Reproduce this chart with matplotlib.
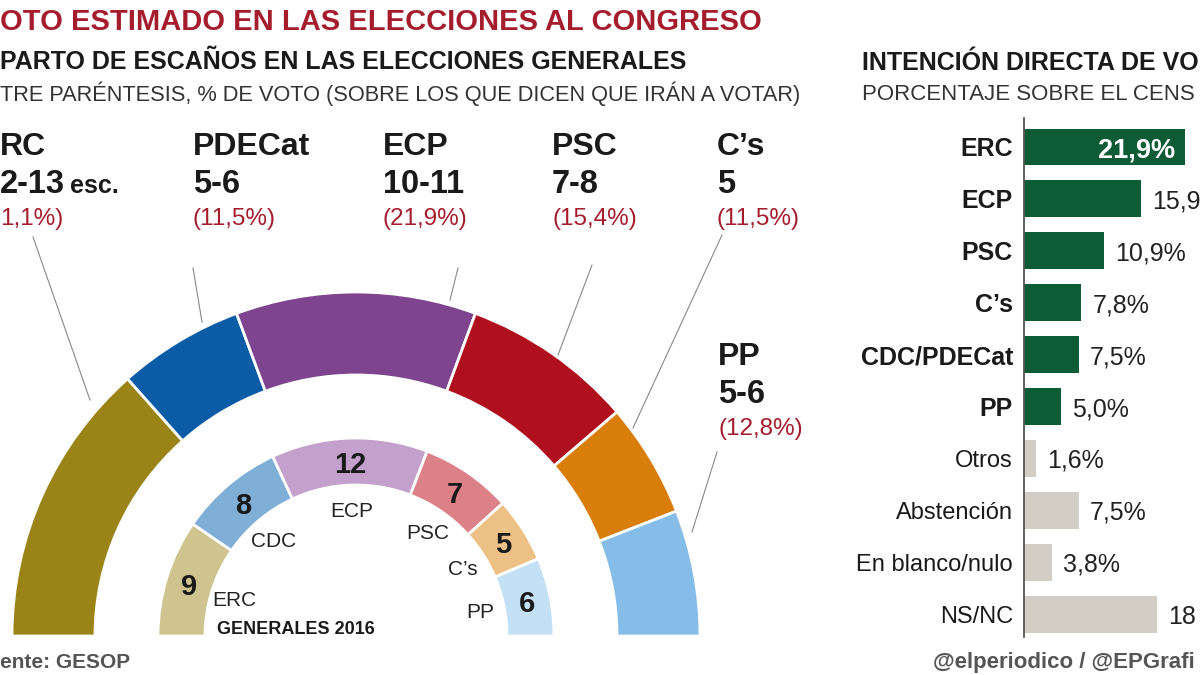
import numpy as np
import matplotlib
matplotlib.use("Agg")
import matplotlib.pyplot as plt
from matplotlib.patches import Wedge

plt.rcParams['font.family'] = ['Liberation Sans', 'DejaVu Sans']

# ========== DATA ==========
# estimated seats (range) per party, outer ring
parties = ['ERC', 'PDECat', 'ECP', 'PSC', "C's", 'PP']
seats_low = [12, 5, 10, 7, 5, 5]
seats_high = [13, 6, 11, 8, 5, 6]
name_labels = ['RC', 'PDECat', 'ECP', 'PSC', 'C\u2019s', 'PP']
seat_labels = ['2-13', '5-6', '10-11', '7-8', '5', '5-6']
vote_labels = ['1,1%)', '(11,5%)', '(21,9%)', '(15,4%)', '(11,5%)', '(12,8%)']
outer_colors = ['#9a8418', '#0b5ca6', '#7e4490', '#b0101e', '#d97d0b', '#85bde8']

# 2016 results, inner ring
parties_2016 = ['ERC', 'CDC', 'ECP', 'PSC', 'C\u2019s', 'PP']
seats_2016 = [9, 8, 12, 7, 5, 6]
inner_colors = ['#cfc48f', '#7faed6', '#c4a1cc', '#dc8188', '#edc185', '#c4e0f4']

# direct vote intention (% of census)
bar_labels = ['ERC', 'ECP', 'PSC', 'C\u2019s', 'CDC/PDECat', 'PP',
              'Otros', 'Abstención', 'En blanco/nulo', 'NS/NC']
bar_values = [21.9, 15.9, 10.9, 7.8, 7.5, 5.0, 1.6, 7.5, 3.8, 18.1]
# value labels as they show (the last ones run off the right edge)
bar_texts = ['21,9%', '15,9', '10,9%', '7,8%', '7,5%', '5,0%', '1,6%', '7,5%', '3,8%', '18']
bar_is_party = [True] * 6 + [False] * 4

W, H = 1200, 675
fig = plt.figure(figsize=(12, 6.75), dpi=100)
ax = fig.add_axes([0, 0, 1, 1])
ax.set_xlim(0, W)
ax.set_ylim(0, H)
ax.set_aspect('equal')
ax.axis('off')


def Y(y):
    # image row -> axis y
    return H - y


RED = '#a51d2d'
DARK = '#1a1a1a'

# ========== TITLES ==========
ax.text(0, Y(30), 'OTO ESTIMADO EN LAS ELECCIONES AL CONGRESO', color=RED,
        fontsize=21, fontweight='bold')
ax.text(0, Y(69), 'PARTO DE ESCAÑOS EN LAS ELECCIONES GENERALES', color=DARK,
        fontsize=18, fontweight='bold')
ax.text(0, Y(101), 'TRE PARÉNTESIS, % DE VOTO (SOBRE LOS QUE DICEN QUE IRÁN A VOTAR)',
        color='#333333', fontsize=15.7)

ax.text(862, Y(70), 'INTENCIÓN DIRECTA DE VO', color=DARK, fontsize=18, fontweight='bold')
ax.text(862, Y(100), 'PORCENTAJE SOBRE EL CENS', color='#333333', fontsize=16)

ax.text(0, Y(668), 'ente: GESOP', color='#555555', fontsize=15, fontweight='bold')
ax.text(933, Y(668), '@elperiodico / @EPGrafi', color='#555555', fontsize=16, fontweight='bold')

# ========== OUTER RING (estimate) ==========
cx, cy = 356, Y(636)
seats_mid = [(lo + hi) / 2 for lo, hi in zip(seats_low, seats_high)]
tot = sum(seats_mid)
cum = 0
for s, col in zip(seats_mid, outer_colors):
    t_start = 180 - cum / tot * 180
    cum += s
    t_end = 180 - cum / tot * 180
    ax.add_patch(Wedge((cx, cy), 344, t_end, t_start, width=83,
                       facecolor=col, edgecolor='white', linewidth=2))

# ========== INNER RING (2016) ==========
tot16 = sum(seats_2016)
cum = 0
for name, s, col in zip(parties_2016, seats_2016, inner_colors):
    t_start = 180 - cum / tot16 * 180
    cum += s
    t_end = 180 - cum / tot16 * 180
    ax.add_patch(Wedge((cx, cy), 198, t_end, t_start, width=47,
                       facecolor=col, edgecolor='white', linewidth=2))
    mid = np.radians((t_start + t_end) / 2)
    ax.text(cx + 174.5 * np.cos(mid), cy + 174.5 * np.sin(mid), str(s),
            ha='center', va='center_baseline', fontsize=21, fontweight='bold', color=DARK)
    ax.text(cx + 127 * np.cos(mid), cy + 127 * np.sin(mid), name,
            ha='center', va='center_baseline', fontsize=15, color='#222222')

ax.text(296, Y(634), 'GENERALES 2016', ha='center', fontsize=13, fontweight='bold', color=DARK)

# ========== PARTY LABELS ==========
label_x = [0, 193, 383, 552, 717, 718]
label_base = [155, 155, 155, 155, 155, 365]
for i in range(len(parties)):
    x, b = label_x[i], label_base[i]
    ax.text(x, Y(b), name_labels[i], fontsize=23, fontweight='bold', color=DARK)
    ax.text(x, Y(b + 38), seat_labels[i], fontsize=23.5, fontweight='bold', color=DARK)
    ax.text(x, Y(b + 70), vote_labels[i], fontsize=17.5, color=RED)
ax.text(70, Y(193), 'esc.', fontsize=18, fontweight='bold', color=DARK)

# leader lines
leaders = [((33, 237), (90, 400)), ((193, 268), (202, 322)), ((458, 268), (450, 300)),
           ((592, 265), (558, 355)), ((722, 235), (633, 428)), ((717, 452), (692, 532))]
for (x0, y0), (x1, y1) in leaders:
    ax.plot([x0, x1], [Y(y0), Y(y1)], color='#888888', lw=0.8)

# ========== BAR CHART ==========
bx0, btop, bbot = 1024, 118, 637
px_per_pct = 7.35
bax = fig.add_axes([bx0 / W, 1 - bbot / H, (W - bx0) / W, (bbot - btop) / H])
step = 51.9
first = 147
bax.set_ylim((bbot - first) / step, (btop - first) / step)
bax.set_xlim(0, (W - bx0) / px_per_pct)
bax.patch.set_alpha(0)
for sp in ['top', 'right', 'bottom']:
    bax.spines[sp].set_visible(False)
bax.spines['left'].set_color('#555555')
bax.spines['left'].set_linewidth(1.3)
bax.set_xticks([])
bax.set_yticks([])

ypos = np.arange(len(bar_values))
colors = ['#0d5c36' if p else '#d3cec5' for p in bar_is_party]
bax.barh(ypos, bar_values, height=0.71, color=colors)

for i, (lab, v, p) in enumerate(zip(bar_labels, bar_values, bar_is_party)):
    bax.annotate(lab, (0, i), xytext=(-8, 0), textcoords='offset points',
                 ha='right', va='center_baseline', fontsize=18 if p else 17,
                 fontweight='bold' if p else 'normal', color=DARK, annotation_clip=False)
    if i == 0:
        bax.annotate(bar_texts[i], (v, i), xytext=(-7, 0), textcoords='offset points',
                     ha='right', va='center_baseline', fontsize=19.5, fontweight='bold',
                     color='white', annotation_clip=False)
    else:
        bax.annotate(bar_texts[i], (v, i), xytext=(8, 0), textcoords='offset points',
                     ha='left', va='center_baseline', fontsize=18, color='#222222',
                     annotation_clip=False)

fig.savefig('out.png', dpi=100)
